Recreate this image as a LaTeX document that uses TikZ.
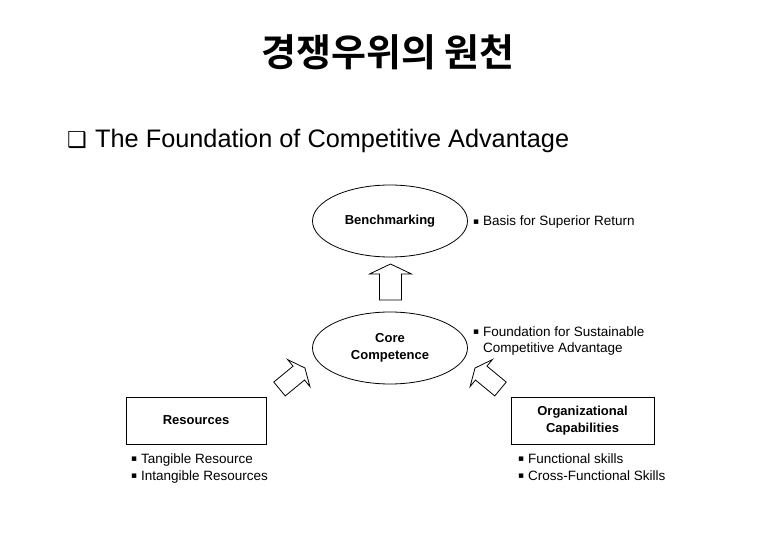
\documentclass[tikz,border=0pt]{standalone}
\usepackage{fontspec}
\setmainfont{Liberation Sans}
\newfontfamily\krfont{Noto Sans CJK KR}[BoldFont={* Bold}]
\newfontfamily\symfont{DejaVu Sans}
\usetikzlibrary{shapes.geometric}
\newcommand{\bul}{{\symfont\fontsize{9}{9}\selectfont\raisebox{0.35ex}{\char"25AA}}}
\newcommand{\blockarr}[6]{% tail, angle, length, head length, head half width, shaft half width
  \begin{scope}[shift={#1}, rotate=#2]
    \draw[blockarrow] (0,-#6) -- (#3-#4,-#6) -- (#3-#4,-#5) -- (#3,0) -- (#3-#4,#5) -- (#3-#4,#6) -- (0,#6) -- cycle;
  \end{scope}}
\begin{document}
\begin{tikzpicture}[x=1pt,y=-1pt,
  oval/.style={draw, ellipse, line width=0.8pt, minimum width=155pt, minimum height=72pt, inner sep=0pt, font=\bfseries\fontsize{13}{17}\selectfont, align=center},
  boxnode/.style={draw, rectangle, line width=0.8pt, minimum height=47pt, inner sep=0pt, font=\bfseries\fontsize{13}{17}\selectfont, align=center},
  bodytext/.style={anchor=base west, inner sep=0pt, align=left, font=\fontsize{13.5}{17}\selectfont},
  blockarrow/.style={draw, line width=0.8pt, fill=white, line join=miter}]
\useasboundingbox (0,0) rectangle (780,540);
\fill[white] (0,0) rectangle (780,540);

\node[font=\krfont\bfseries\fontsize{38}{42}\selectfont, inner sep=0pt] (title) at (388,52) {경쟁우위의 원천};
\node[anchor=base west, inner sep=0pt, font=\symfont\fontsize{22}{26}\selectfont] (chk) at (67,148) {❑};
\node[anchor=base west, inner sep=0pt, font=\fontsize{25.3}{30}\selectfont] (sub) at (95,148) {The Foundation of Competitive Advantage};

\node[oval] (bench) at (390,221) {Benchmarking};
\node[oval] (core) at (390,348) {Core\\Competence};
\node[boxnode, minimum width=140pt] (res) at (196,420.5) {Resources};
\node[boxnode, minimum width=143pt] (org) at (582.5,420.5) {Organizational\\Capabilities};

\node[bodytext] (basis) at (473,226) {\bul\ Basis for Superior Return};
\node[bodytext] (found) at (473,353) {\bul\ Foundation for Sustainable\\\phantom{\bul\ }Competitive Advantage};
\node[bodytext] (reslist) at (131,480) {\bul\ Tangible Resource\\\bul\ Intangible Resources};
\node[bodytext] (orglist) at (518,480) {\bul\ Functional skills\\\bul\ Cross-Functional Skills};

\coordinate (upTail) at (390.5,300);
\coordinate (leftTail) at (279.5,389);
\coordinate (rightTail) at (500.5,389);
\blockarr{(upTail)}{90}{36}{10}{21}{11}
\blockarr{(leftTail)}{39.5}{33}{8}{17.5}{9}
\blockarr{(rightTail)}{140.5}{33}{8}{17.5}{9}
\end{tikzpicture}
\end{document}
